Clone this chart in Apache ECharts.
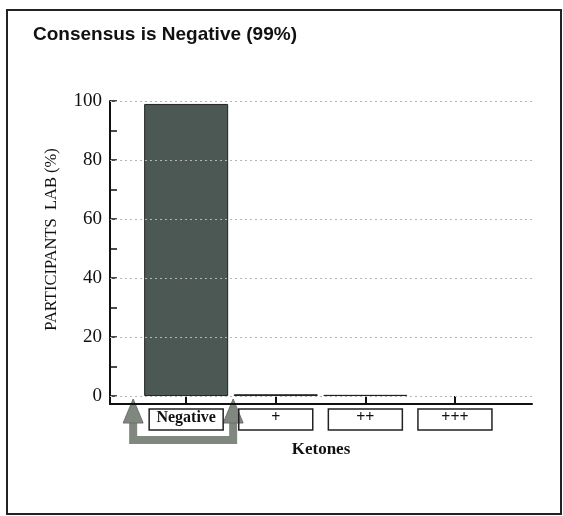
<!DOCTYPE html>
<html>
<head>
<meta charset="utf-8">
<script src="https://cdn.jsdelivr.net/npm/echarts@6/dist/echarts.min.js"></script>
<style>
  html, body { margin: 0; padding: 0; background: #fff; }
  #chart { width: 563px; height: 516px; }
</style>
</head>
<body>
<div id="chart"></div>
<script>
// data
const categories = ['Negative', '+', '++', '+++'];
const percents = [99, 0.6, 0.4, 0];
const yLabelValues = [0, 20, 40, 60, 80, 100];
const yTickValues = [0, 10, 20, 30, 40, 50, 60, 70, 80, 90, 100];
const gridValues = [0, 20, 40, 60, 80, 100];

const serif = '"Liberation Serif", "DejaVu Serif", serif';
const chart = echarts.init(document.getElementById('chart'));

const barData = categories.map((c, i) => ({
  value: [i, percents[i]],
  itemStyle: percents[i] === 0 ? { borderWidth: 0 } : {}
}));

const option = {
  backgroundColor: '#fff',
  animation: false,
  title: {
    text: 'Consensus is Negative (99%)',
    left: 28,
    top: 20,
    textStyle: {
      fontFamily: '"Liberation Sans", Arial, sans-serif',
      fontSize: 19,
      fontWeight: 'bold',
      color: '#111'
    }
  },
  grid: { left: 110, right: 31, top: 101, bottom: 112 },
  xAxis: {
    type: 'value',
    min: -0.85,
    max: 3.86,
    name: 'Ketones',
    nameLocation: 'middle',
    nameGap: 37,
    nameTextStyle: { fontFamily: serif, fontSize: 17, fontWeight: 'bold', color: '#111' },
    axisLine: { show: true, onZero: false, lineStyle: { color: '#111', width: 2 } },
    axisTick: { show: true, inside: true, length: 8, customValues: [0, 1, 2, 3], lineStyle: { color: '#111', width: 2 } },
    splitLine: { show: false },
    axisLabel: {
      customValues: [0, 1, 2, 3],
      formatter: (v) => categories[Math.round(v)],
      margin: 5,
      fontFamily: serif,
      fontSize: 16,
      fontWeight: 'bold',
      color: '#111',
      width: 72,
      height: 19,
      align: 'center',
      padding: [1, 1],
      borderColor: '#222',
      borderWidth: 1.5
    }
  },
  yAxis: {
    type: 'value',
    min: -2.7,
    max: 100,
    name: 'PARTICIPANTS  LAB (%)',
    nameLocation: 'middle',
    nameGap: 50,
    nameTextStyle: { fontFamily: serif, fontSize: 16.5, color: '#111', padding: [0, 0, 0, 26] },
    axisLine: { show: true, onZero: false, lineStyle: { color: '#111', width: 2 } },
    axisTick: { show: true, inside: true, length: 7, customValues: yTickValues, lineStyle: { color: '#111', width: 1.5 } },
    splitLine: { show: false },
    axisLabel: {
      customValues: yLabelValues,
      margin: 8,
      fontFamily: serif,
      fontSize: 19,
      color: '#111'
    }
  },
  series: [{
    type: 'bar',
    data: barData,
    barWidth: 84,
    itemStyle: { color: '#4c5854', borderColor: '#1e2220', borderWidth: 1 },
    markLine: {
      silent: true,
      symbol: 'none',
      label: { show: false },
      lineStyle: { color: '#b5b5b5', type: [2, 3], width: 1 },
      data: gridValues.map((v) => ({ yAxis: v }))
    },
    z: 3
  }]
};

chart.setOption(option);

// grey bracket with two arrows under the "Negative" label
const c0 = chart.convertToPixel({ xAxisIndex: 0 }, 0);
const yTop = chart.convertToPixel({ yAxisIndex: 0 }, -2.7);
const L = c0 - 53, R = c0 + 47;
const grey = '#80877f';
chart.setOption({
  graphic: [
    {
      type: 'rect',
      shape: { x: 7, y: 10, width: 554, height: 504 },
      style: { fill: 'none', stroke: '#222', lineWidth: 2 },
      silent: true
    },
    {
      type: 'polyline',
      shape: { points: [[L, yTop + 18], [L, yTop + 36], [R, yTop + 36], [R, yTop + 18]] },
      style: { stroke: grey, lineWidth: 8, fill: 'none' },
      silent: true
    },
    {
      type: 'polygon',
      shape: { points: [[L - 10, yTop + 19], [L, yTop - 5], [L + 10, yTop + 19]] },
      style: { fill: grey, stroke: '#6a716b', lineWidth: 1 },
      silent: true
    },
    {
      type: 'polygon',
      shape: { points: [[R - 10, yTop + 19], [R, yTop - 5], [R + 10, yTop + 19]] },
      style: { fill: grey, stroke: '#6a716b', lineWidth: 1 },
      silent: true
    }
  ]
});
</script>
</body>
</html>
